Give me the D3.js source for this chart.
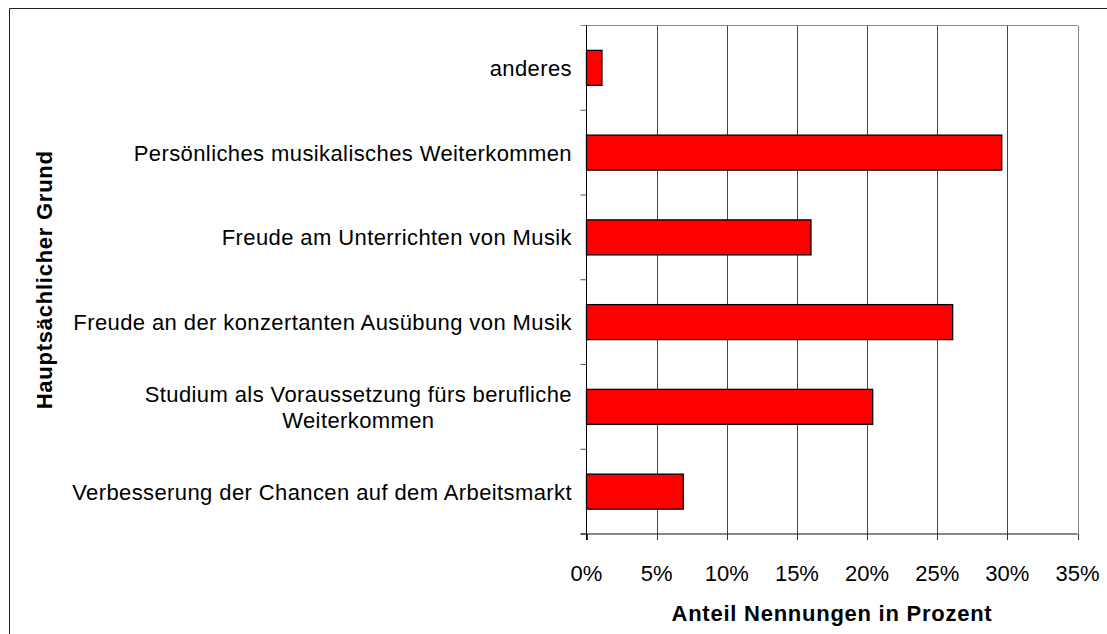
<!DOCTYPE html>
<html lang="de">
<head>
<meta charset="UTF-8">
<title>Hauptsächlicher Grund</title>
<style>
    body { margin: 0; background: #fff; }
    svg { display: block; font-family: "Liberation Sans", Arial, sans-serif; }
    .cat { font-size: 22px; fill: #000; letter-spacing: 0.4px; }
    .tick-label { font-size: 22px; fill: #000; }
    .axis-title { font-size: 22px; font-weight: bold; fill: #000; letter-spacing: 0.75px; }
</style>
</head>
<body>
<svg id="chart"></svg>
<script src="https://d3js.org/d3.v7.min.js"></script>
<script>
    // categories top to bottom, values in percent
    const categories = [
        "anderes",
        "Persönliches musikalisches Weiterkommen",
        "Freude am Unterrichten von Musik",
        "Freude an der konzertanten Ausübung von Musik",
        "Studium als Voraussetzung fürs berufliche\nWeiterkommen",
        "Verbesserung der Chancen auf dem Arbeitsmarkt"
    ];
    const values = [1.1, 29.6, 16.0, 26.1, 20.4, 6.9];
    const xTicks = [0, 5, 10, 15, 20, 25, 30, 35];

    const width = 1107, height = 634;
    const plot = { left: 586.5, right: 1077.5, top: 25.5, bottom: 534 };

    const svg = d3.select("#chart").attr("width", width).attr("height", height);

    // outer frame (runs off right and bottom)
    svg.append("path")
        .attr("d", `M9.5,${height + 5} V8.5 H${width + 5}`)
        .attr("fill", "none")
        .attr("stroke", "#222")
        .attr("stroke-width", 1);

    const x = d3.scaleLinear().domain([0, 35]).range([plot.left, plot.right]);
    const y = d3.scaleBand()
        .domain(categories)
        .range([plot.top, plot.bottom])
        .paddingInner(0.587)
        .paddingOuter(0.2935);

    const step = y.step();
    const gap = (step - y.bandwidth()) / 2;

    // vertical grid lines
    svg.append("g").selectAll("line")
        .data(xTicks.slice(1))
        .join("line")
        .attr("x1", d => Math.round(x(d)) + 0.5)
        .attr("x2", d => Math.round(x(d)) + 0.5)
        .attr("y1", plot.top)
        .attr("y2", plot.bottom)
        .attr("stroke", d => d === 35 ? "#888" : "#444")
        .attr("stroke-width", 1);

    // top border
    svg.append("line")
        .attr("x1", plot.left - 6).attr("x2", plot.right)
        .attr("y1", plot.top).attr("y2", plot.top)
        .attr("stroke", "#888");

    // bars
    svg.append("g").selectAll("rect")
        .data(categories)
        .join("rect")
        .attr("x", x(0))
        .attr("y", d => y(d))
        .attr("width", (d, i) => x(values[i]) - x(0))
        .attr("height", y.bandwidth())
        .attr("fill", "#ff0000")
        .attr("stroke", "#000")
        .attr("stroke-width", 1.3);

    // left axis line and ticks at band boundaries
    svg.append("line")
        .attr("x1", plot.left).attr("x2", plot.left)
        .attr("y1", plot.top).attr("y2", plot.bottom + 6)
        .attr("stroke", "#000");
    svg.append("g").selectAll("line")
        .data(categories)
        .join("line")
        .attr("x1", plot.left - 6).attr("x2", plot.left)
        .attr("y1", d => y(d) - gap + step)
        .attr("y2", d => y(d) - gap + step)
        .attr("stroke", "#555");

    // bottom axis
    svg.append("line")
        .attr("x1", plot.left - 6).attr("x2", plot.right)
        .attr("y1", plot.bottom).attr("y2", plot.bottom)
        .attr("stroke", "#111");
    svg.append("g").selectAll("line")
        .data(xTicks)
        .join("line")
        .attr("x1", d => Math.round(x(d)) + 0.5)
        .attr("x2", d => Math.round(x(d)) + 0.5)
        .attr("y1", plot.bottom)
        .attr("y2", plot.bottom + 6)
        .attr("stroke", "#333");

    svg.append("g").selectAll("text")
        .data(xTicks)
        .join("text")
        .attr("class", "tick-label")
        .attr("x", d => x(d))
        .attr("y", 581)
        .attr("text-anchor", "middle")
        .text(d => d + "%");

    // category labels
    const labelRight = 572;
    const lineH = 26;
    categories.forEach(c => {
        const lines = c.split("\n");
        const cy = y(c) + y.bandwidth() / 2;
        const t = svg.append("text").attr("class", "cat");
        if (lines.length === 1) {
            t.attr("x", labelRight).attr("y", cy + 8).attr("text-anchor", "end").text(c);
        } else {
            t.attr("text-anchor", "middle");
            const spans = lines.map((l, i) => t.append("tspan")
                .attr("y", cy + 8 + (i - (lines.length - 1) / 2) * lineH)
                .text(l));
            const maxW = d3.max(spans, s => s.node().getComputedTextLength());
            spans.forEach(s => s.attr("x", labelRight - maxW / 2));
        }
    });

    // axis titles
    svg.append("text")
        .attr("class", "axis-title")
        .attr("x", (plot.left + plot.right) / 2)
        .attr("y", 621)
        .attr("text-anchor", "middle")
        .text("Anteil Nennungen in Prozent");

    svg.append("text")
        .attr("class", "axis-title")
        .attr("transform", `translate(52,${(plot.top + plot.bottom) / 2}) rotate(-90)`)
        .attr("text-anchor", "middle")
        .text("Hauptsächlicher Grund");
</script>
</body>
</html>
